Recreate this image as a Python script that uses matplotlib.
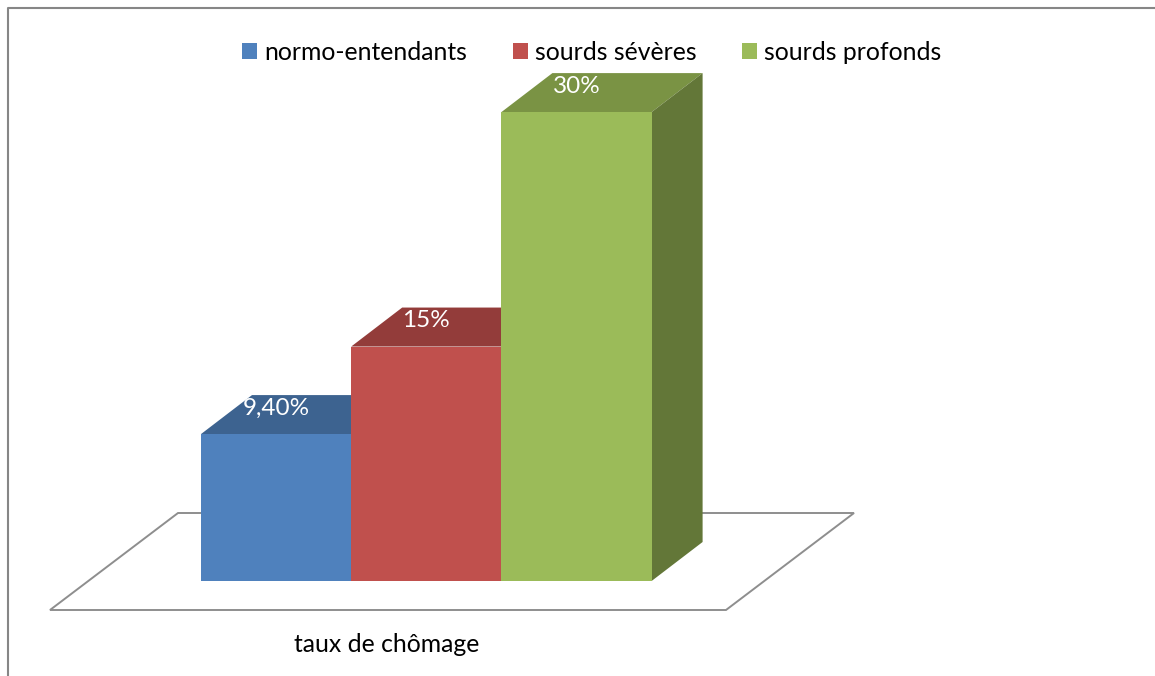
import matplotlib.pyplot as plt
from matplotlib.patches import Patch, Polygon

series_names = ["normo-entendants", "sourds sévères", "sourds profonds"]
values = [9.4, 15, 30]
value_labels = ["9,40%", "15%", "30%"]
category_label = "taux de chômage"

front_colors = ["#4F81BD", "#C0504D", "#9BBB59"]
top_colors = ["#3D6390", "#933C3A", "#7A9344"]
side_colors = ["#3A5A84", "#873735", "#637738"]

WIDTH, HEIGHT = 1155, 676
BAR_PX = 150.2  # one bar width, in pixels
PCT_PX = 15.63  # one percent, in pixels
BASE_X, BASE_Y = 201, 581
DEPTH_X = 51 / BAR_PX
DEPTH_Y = 39 / PCT_PX


def to_x(px):
    return (px - BASE_X) / BAR_PX


def to_y(py):
    return (BASE_Y - py) / PCT_PX


plt.rcParams["font.family"] = ["Lato", "DejaVu Sans"]

figure = plt.figure(figsize=(WIDTH / 100, HEIGHT / 100), dpi=100)
ax = figure.add_axes([0, 0, 1, 1])
ax.set_xlim(to_x(0), to_x(WIDTH))
ax.set_ylim(to_y(HEIGHT), to_y(0))
ax.axis("off")

# chart frame: only left and top are visible in the crop
ax.plot([to_x(8), to_x(8), to_x(WIDTH)], [to_y(HEIGHT), to_y(8), to_y(8)], color="#868686", lw=1.5, clip_on=False)

# floor of the 3d box
floor = [(to_x(50), to_y(610)), (to_x(726), to_y(610)), (to_x(854), to_y(513)), (to_x(178), to_y(513))]
ax.add_patch(Polygon(floor, closed=True, facecolor="white", edgecolor="#8E8E8E", lw=1.4, zorder=1))

for i, value in enumerate(values):
    zorder = 2 + i
    ax.bar(i, value, width=1, align="edge", color=front_colors[i], linewidth=0, zorder=zorder + 0.5)
    top = [(i, value), (i + DEPTH_X, value + DEPTH_Y), (i + 1 + DEPTH_X, value + DEPTH_Y), (i + 1, value)]
    side = [(i + 1, 0), (i + 1 + DEPTH_X, DEPTH_Y), (i + 1 + DEPTH_X, value + DEPTH_Y), (i + 1, value)]
    ax.add_patch(Polygon(top, closed=True, facecolor=top_colors[i], edgecolor="none", zorder=zorder))
    ax.add_patch(Polygon(side, closed=True, facecolor=side_colors[i], edgecolor="none", zorder=zorder))
    ax.text(i + 0.5, value + 26 / PCT_PX, value_labels[i], color="white", fontsize=17.5, ha="center", va="center", zorder=10)

ax.text(to_x(387), to_y(644), category_label, color="black", fontsize=17.8, ha="center", va="center")

handles = [Patch(facecolor=c, edgecolor="none") for c in front_colors]
ax.legend(
    handles,
    series_names,
    loc="center",
    bbox_to_anchor=(592 / WIDTH, 1 - 52 / HEIGHT),
    ncols=3,
    frameon=False,
    fontsize=17.8,
    handlelength=0.61,
    handleheight=0.61,
    handletextpad=0.28,
    columnspacing=1.85,
    labelcolor="black",
)

figure.savefig("out.png", dpi=100)
plt.close(figure)
